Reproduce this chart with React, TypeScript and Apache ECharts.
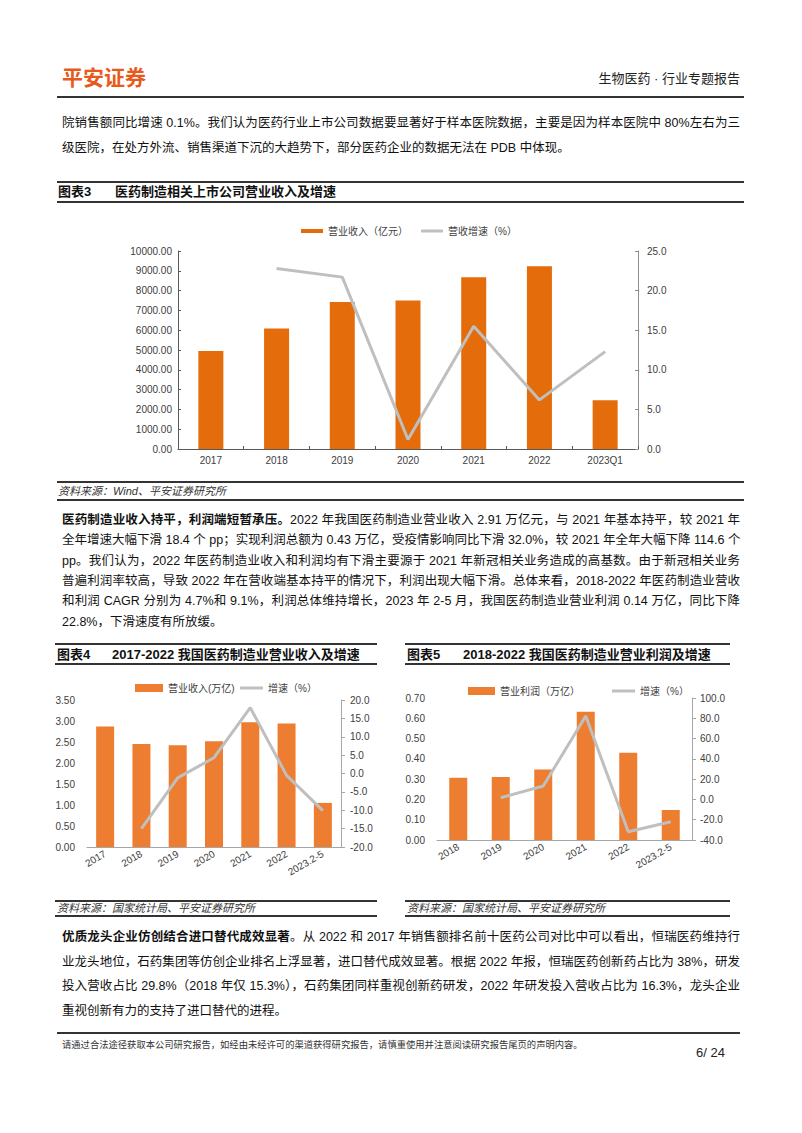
import React, { useEffect, useRef } from 'react';
import * as echarts from 'echarts';

// ---------- data ----------
const years3 = ['2017', '2018', '2019', '2020', '2021', '2022', '2023Q1'];
const revenue3 = [4950, 6090, 7420, 7500, 8680, 9230, 2460];
const growth3 = [null, 22.8, 21.7, 1.2, 15.5, 6.2, 12.3];

const years4 = ['2017', '2018', '2019', '2020', '2021', '2022', '2023.2-5'];
const revenue4 = [2.87, 2.45, 2.42, 2.52, 2.97, 2.94, 1.05];
const growth4 = [null, -15.0, -1.2, 4.3, 17.9, -0.5, -10.1];

const years5 = ['2018', '2019', '2020', '2021', '2022', '2023.2-5'];
const profit5 = [0.307, 0.31, 0.348, 0.632, 0.43, 0.148];
const growth5 = [null, 1.7, 13.2, 82.2, -31.8, -22.0];

const names3 = ['营业收入（亿元）', '营收增速（%）'];
const names4 = ['营业收入(万亿)', '增速（%）'];
const names5 = ['营业利润（万亿）', '增速（%）'];

const FONT = '"Liberation Sans", Arial, "Noto Sans CJK SC", sans-serif';
const ORANGE3 = '#E46C0A';
const ORANGE45 = '#ED7D31';
const GRAY = '#BFBFBF';

const lbl = { fontSize: 10, color: '#404040', fontFamily: FONT };

function buildOption(): any {
  const legend = (name: string, left: number, top: number, w: number, h: number) => ({
    left, top, itemWidth: w, itemHeight: h, selectedMode: false,
    data: [{ name, icon: 'rect' }],
    textStyle: { fontSize: 10, color: '#404040', fontFamily: FONT },
  });
  return {
    animation: false,
    legend: [
      legend(names3[0], 296, 221, 22, 4),
      legend(names3[1], 416, 221, 22, 3),
      legend(names4[0], 130, 678, 28, 8),
      legend(names4[1], 235, 678, 23, 3),
      legend(names5[0], 463, 681, 27, 8),
      legend(names5[1], 607, 681, 23, 3),
    ],
    grid: [
      { left: 178, top: 251, width: 460, height: 198 },
      { left: 87, top: 700, width: 254, height: 147 },
      { left: 437, top: 698, width: 255, height: 142 },
    ],
    xAxis: [
      {
        type: 'category', gridIndex: 0, data: years3,
        axisLine: { lineStyle: { color: '#595959' } },
        axisTick: { show: true, inside: true, length: 3, lineStyle: { color: '#595959' } },
        axisLabel: { ...lbl, margin: 6, interval: 0 },
      },
      {
        type: 'category', gridIndex: 1, data: years4,
        axisLine: { lineStyle: { color: '#A6A6A6' } },
        axisTick: { show: false },
        axisLabel: { ...lbl, margin: 6, interval: 0, rotate: 30 },
      },
      {
        type: 'category', gridIndex: 2, data: years5,
        axisLine: { lineStyle: { color: '#A6A6A6' } },
        axisTick: { show: false },
        axisLabel: { ...lbl, margin: 6, interval: 0, rotate: 30 },
      },
    ],
    yAxis: [
      {
        type: 'value', gridIndex: 0, position: 'left', min: 0, max: 10000, interval: 1000,
        axisLine: { show: true, lineStyle: { color: '#595959' } },
        axisTick: { show: true, inside: true, length: 3, lineStyle: { color: '#595959' } },
        splitLine: { show: false },
        axisLabel: { ...lbl, margin: 6, formatter: (v: number) => v.toFixed(2) },
      },
      {
        type: 'value', gridIndex: 0, position: 'right', min: 0, max: 25, interval: 5,
        axisLine: { show: true, lineStyle: { color: '#8C8C8C' } },
        axisTick: { show: true, inside: true, length: 3, lineStyle: { color: '#8C8C8C' } },
        splitLine: { show: false },
        axisLabel: { ...lbl, margin: 9, formatter: (v: number) => v.toFixed(1) },
      },
      {
        type: 'value', gridIndex: 1, position: 'left', min: 0, max: 3.5, interval: 0.5,
        axisLine: { show: false }, axisTick: { show: false }, splitLine: { show: false },
        axisLabel: { ...lbl, margin: 12, formatter: (v: number) => v.toFixed(2) },
      },
      {
        type: 'value', gridIndex: 1, position: 'right', min: -20, max: 20, interval: 5,
        axisLine: { show: true, lineStyle: { color: '#A6A6A6' } },
        axisTick: { show: true, length: 4, lineStyle: { color: '#A6A6A6' } },
        splitLine: { show: false },
        axisLabel: { ...lbl, margin: 9, formatter: (v: number) => v.toFixed(1) },
      },
      {
        type: 'value', gridIndex: 2, position: 'left', min: 0, max: 0.7, interval: 0.1,
        axisLine: { show: false }, axisTick: { show: false }, splitLine: { show: false },
        axisLabel: { ...lbl, margin: 12, formatter: (v: number) => v.toFixed(2) },
      },
      {
        type: 'value', gridIndex: 2, position: 'right', min: -40, max: 100, interval: 20,
        axisLine: { show: true, lineStyle: { color: '#A6A6A6' } },
        axisTick: { show: true, length: 4, lineStyle: { color: '#A6A6A6' } },
        splitLine: { show: false },
        axisLabel: { ...lbl, margin: 8, formatter: (v: number) => v.toFixed(1) },
      },
    ],
    series: [
      { type: 'bar', name: names3[0], xAxisIndex: 0, yAxisIndex: 0, data: revenue3, barWidth: 25, itemStyle: { color: ORANGE3 } },
      { type: 'line', name: names3[1], xAxisIndex: 0, yAxisIndex: 1, data: growth3, symbol: 'none', color: GRAY, lineStyle: { width: 3, color: GRAY } },
      { type: 'bar', name: names4[0], xAxisIndex: 1, yAxisIndex: 2, data: revenue4, barWidth: 18, itemStyle: { color: ORANGE45 } },
      { type: 'line', name: names4[1], xAxisIndex: 1, yAxisIndex: 3, data: growth4, symbol: 'none', color: GRAY, lineStyle: { width: 3, color: GRAY } },
      { type: 'bar', name: names5[0], xAxisIndex: 2, yAxisIndex: 4, data: profit5, barWidth: 18, itemStyle: { color: ORANGE45 } },
      { type: 'line', name: names5[1], xAxisIndex: 2, yAxisIndex: 5, data: growth5, symbol: 'none', color: GRAY, lineStyle: { width: 3, color: GRAY } },
    ],
  };
}

type TLProps = {
  x: number; y: number; w?: number; size?: number; bold?: boolean; italic?: boolean;
  justify?: boolean; align?: 'left' | 'right' | 'center'; color?: string; children: React.ReactNode;
};
function TL({ x, y, w, size = 12.5, bold, italic, justify, align = 'left', color = '#111', children }: TLProps) {
  const a = justify ? 'justify' : align;
  return (
    <div
      style={{
        position: 'absolute', left: x, top: y - 10, width: w, height: 20, lineHeight: '20px',
        fontSize: size, fontWeight: bold ? 700 : 400, fontStyle: italic ? 'italic' : 'normal',
        color, whiteSpace: 'nowrap', textAlign: a as any, textAlignLast: a as any,
      }}
    >
      {children}
    </div>
  );
}

function HL({ x1, x2, y, h = 1, color = '#333' }: { x1: number; x2: number; y: number; h?: number; color?: string }) {
  return <div style={{ position: 'absolute', left: x1, top: y - h / 2, width: x2 - x1, height: h, background: color }} />;
}

const P1 = [
  '院销售额同比增速 0.1%。我们认为医药行业上市公司数据要显著好于样本医院数据，主要是因为样本医院中 80%左右为三',
  '级医院，在处方外流、销售渠道下沉的大趋势下，部分医药企业的数据无法在 PDB 中体现。',
];
const P2 = [
  '2022 年我国医药制造业营业收入 2.91 万亿元，与 2021 年基本持平，较 2021 年',
  '全年增速大幅下滑 18.4 个 pp；实现利润总额为 0.43 万亿，受疫情影响同比下滑 32.0%，较 2021 年全年大幅下降 114.6 个',
  'pp。我们认为，2022 年医药制造业收入和利润均有下滑主要源于 2021 年新冠相关业务造成的高基数。由于新冠相关业务',
  '普遍利润率较高，导致 2022 年在营收端基本持平的情况下，利润出现大幅下滑。总体来看，2018-2022 年医药制造业营收',
  '和利润 CAGR 分别为 4.7%和 9.1%，利润总体维持增长，2023 年 2-5 月，我国医药制造业营业利润 0.14 万亿，同比下降',
  '22.8%，下滑速度有所放缓。',
];
const P3 = [
  '。从 2022 和 2017 年销售额排名前十医药公司对比中可以看出，恒瑞医药维持行',
  '业龙头地位，石药集团等仿创企业排名上浮显著，进口替代成效显著。根据 2022 年报，恒瑞医药创新药占比为 38%，研发',
  '投入营收占比 29.8%（2018 年仅 15.3%），石药集团同样重视创新药研发，2022 年研发投入营收占比为 16.3%，龙头企业',
  '重视创新有力的支持了进口替代的进程。',
];

export default function App() {
  const ref = useRef<HTMLDivElement>(null);
  useEffect(() => {
    if (!ref.current) return;
    const chart = echarts.init(ref.current, undefined, { renderer: 'svg' });
    chart.setOption(buildOption());
    return () => chart.dispose();
  }, []);

  const X0 = 62;
  const W = 678;
  const p1y = [123, 148];
  const p2y = [520, 540.3, 560.6, 580.9, 601.2, 621.5];
  const p3y = [937, 961.5, 986, 1010.5];

  return (
    <div style={{ position: 'absolute', left: 0, top: 0, width: 802, height: 1133, background: '#fff', fontFamily: FONT, overflow: 'hidden' }}>
      <div ref={ref} style={{ position: 'absolute', left: 0, top: 0, width: 802, height: 1133 }} />

      {/* header */}
      <TL x={62} y={78} size={21} bold color="#E8591C">平安证券</TL>
      <TL x={540} y={79} w={200} size={13} align="right" color="#222">生物医药 · 行业专题报告</TL>
      <HL x1={57} x2={744} y={97} h={1.5} color="#333" />

      {/* paragraph 1 */}
      {P1.map((t, i) => (
        <TL key={i} x={X0} y={p1y[i]} w={W} justify={i < P1.length - 1}>{t}</TL>
      ))}

      {/* chart 3 title */}
      <HL x1={57} x2={744} y={181.5} h={2} color="#333" />
      <TL x={58} y={192} size={13} bold color="#111">图表3</TL>
      <TL x={115} y={192} size={13} bold color="#111">医药制造相关上市公司营业收入及增速</TL>
      <HL x1={57} x2={744} y={202} h={1.2} color="#333" />

      {/* chart 3 source */}
      <HL x1={57} x2={744} y={482} h={1.5} color="#333" />
      <TL x={58} y={491} size={11} italic color="#333">资料来源：Wind、平安证券研究所</TL>
      <HL x1={57} x2={744} y={500} h={1.2} color="#333" />

      {/* paragraph 2 */}
      {P2.map((t, i) => (
        <TL key={i} x={X0} y={p2y[i]} w={W} justify={i < P2.length - 1}>
          {i === 0 ? <b>医药制造业收入持平，利润端短暂承压。</b> : null}
          {t}
        </TL>
      ))}

      {/* chart 4 title */}
      <HL x1={55} x2={377} y={644} h={2} color="#333" />
      <TL x={57} y={655} size={13} bold color="#111">图表4</TL>
      <TL x={112} y={655} size={13} bold color="#111">2017-2022 我国医药制造业营业收入及增速</TL>
      <HL x1={55} x2={377} y={664} h={1.2} color="#333" />

      {/* chart 5 title */}
      <HL x1={405} x2={730} y={644} h={2} color="#333" />
      <TL x={407} y={655} size={13} bold color="#111">图表5</TL>
      <TL x={463} y={655} size={13} bold color="#111">2018-2022 我国医药制造业营业利润及增速</TL>
      <HL x1={405} x2={730} y={664} h={1.2} color="#333" />

      {/* chart 4/5 sources */}
      <HL x1={55} x2={377} y={901} h={1.5} color="#333" />
      <TL x={57} y={908} size={11} italic color="#333">资料来源：国家统计局、平安证券研究所</TL>
      <HL x1={55} x2={377} y={916} h={1.2} color="#333" />
      <HL x1={405} x2={730} y={901} h={1.5} color="#333" />
      <TL x={407} y={908} size={11} italic color="#333">资料来源：国家统计局、平安证券研究所</TL>
      <HL x1={405} x2={730} y={916} h={1.2} color="#333" />

      {/* paragraph 3 */}
      {P3.map((t, i) => (
        <TL key={i} x={X0} y={p3y[i]} w={W} justify={i < P3.length - 1}>
          {i === 0 ? <b>优质龙头企业仿创结合进口替代成效显著</b> : null}
          {t}
        </TL>
      ))}

      {/* footer */}
      <HL x1={57} x2={740} y={1033} h={1.5} color="#333" />
      <TL x={62} y={1045} size={9.3} color="#333">请通过合法途径获取本公司研究报告，如经由未经许可的渠道获得研究报告，请慎重使用并注意阅读研究报告尾页的声明内容。</TL>
      <TL x={640} y={1053} w={85} size={13} align="right" color="#222">6/ 24</TL>
    </div>
  );
}
